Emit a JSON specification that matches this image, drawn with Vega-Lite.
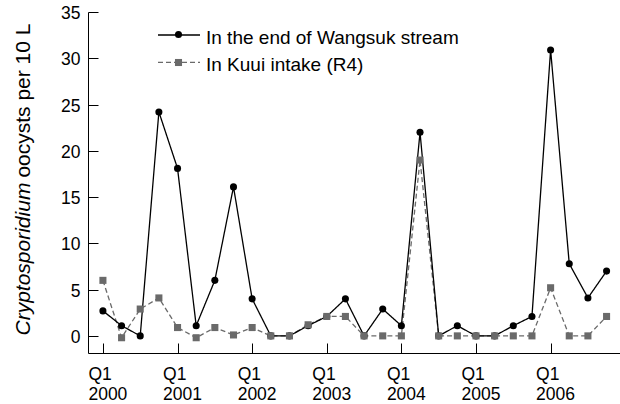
{
  "$schema": "https://vega.github.io/schema/vega-lite/v6.json",
  "width": 532,
  "height": 341,
  "autosize": {"type": "none"},
  "padding": {"left": 88, "top": 12, "right": 0, "bottom": 51},
  "background": "white",
  "config": {
    "view": {"stroke": null},
    "font": "Liberation Sans",
    "axis": {"grid": false, "domainColor": "black", "tickColor": "black", "labelColor": "black", "titleColor": "black", "labelFont": "Liberation Sans", "titleFont": "Liberation Sans", "domainWidth": 1, "tickWidth": 1}
  },
  "data": {
    "values": [
      {"t": 2000.00, "series": "In Kuui intake (R4)", "value": 6.0},
      {"t": 2000.25, "series": "In Kuui intake (R4)", "value": -0.2},
      {"t": 2000.50, "series": "In Kuui intake (R4)", "value": 2.9},
      {"t": 2000.75, "series": "In Kuui intake (R4)", "value": 4.1},
      {"t": 2001.00, "series": "In Kuui intake (R4)", "value": 0.9},
      {"t": 2001.25, "series": "In Kuui intake (R4)", "value": -0.2},
      {"t": 2001.50, "series": "In Kuui intake (R4)", "value": 0.9},
      {"t": 2001.75, "series": "In Kuui intake (R4)", "value": 0.1},
      {"t": 2002.00, "series": "In Kuui intake (R4)", "value": 0.9},
      {"t": 2002.25, "series": "In Kuui intake (R4)", "value": 0},
      {"t": 2002.50, "series": "In Kuui intake (R4)", "value": 0},
      {"t": 2002.75, "series": "In Kuui intake (R4)", "value": 1.2},
      {"t": 2003.00, "series": "In Kuui intake (R4)", "value": 2.1},
      {"t": 2003.25, "series": "In Kuui intake (R4)", "value": 2.1},
      {"t": 2003.50, "series": "In Kuui intake (R4)", "value": 0},
      {"t": 2003.75, "series": "In Kuui intake (R4)", "value": 0},
      {"t": 2004.00, "series": "In Kuui intake (R4)", "value": 0},
      {"t": 2004.25, "series": "In Kuui intake (R4)", "value": 19.0},
      {"t": 2004.50, "series": "In Kuui intake (R4)", "value": 0},
      {"t": 2004.75, "series": "In Kuui intake (R4)", "value": 0},
      {"t": 2005.00, "series": "In Kuui intake (R4)", "value": 0},
      {"t": 2005.25, "series": "In Kuui intake (R4)", "value": 0},
      {"t": 2005.50, "series": "In Kuui intake (R4)", "value": 0},
      {"t": 2005.75, "series": "In Kuui intake (R4)", "value": 0},
      {"t": 2006.00, "series": "In Kuui intake (R4)", "value": 5.2},
      {"t": 2006.25, "series": "In Kuui intake (R4)", "value": 0},
      {"t": 2006.50, "series": "In Kuui intake (R4)", "value": 0},
      {"t": 2006.75, "series": "In Kuui intake (R4)", "value": 2.1},
      {"t": 2000.00, "series": "In the end of Wangsuk stream", "value": 2.7},
      {"t": 2000.25, "series": "In the end of Wangsuk stream", "value": 1.1},
      {"t": 2000.50, "series": "In the end of Wangsuk stream", "value": 0},
      {"t": 2000.75, "series": "In the end of Wangsuk stream", "value": 24.2},
      {"t": 2001.00, "series": "In the end of Wangsuk stream", "value": 18.1},
      {"t": 2001.25, "series": "In the end of Wangsuk stream", "value": 1.1},
      {"t": 2001.50, "series": "In the end of Wangsuk stream", "value": 6.0},
      {"t": 2001.75, "series": "In the end of Wangsuk stream", "value": 16.1},
      {"t": 2002.00, "series": "In the end of Wangsuk stream", "value": 4.0},
      {"t": 2002.25, "series": "In the end of Wangsuk stream", "value": 0},
      {"t": 2002.50, "series": "In the end of Wangsuk stream", "value": 0},
      {"t": 2002.75, "series": "In the end of Wangsuk stream", "value": 1.1},
      {"t": 2003.00, "series": "In the end of Wangsuk stream", "value": 2.1},
      {"t": 2003.25, "series": "In the end of Wangsuk stream", "value": 4.0},
      {"t": 2003.50, "series": "In the end of Wangsuk stream", "value": 0},
      {"t": 2003.75, "series": "In the end of Wangsuk stream", "value": 2.9},
      {"t": 2004.00, "series": "In the end of Wangsuk stream", "value": 1.1},
      {"t": 2004.25, "series": "In the end of Wangsuk stream", "value": 22.0},
      {"t": 2004.50, "series": "In the end of Wangsuk stream", "value": 0},
      {"t": 2004.75, "series": "In the end of Wangsuk stream", "value": 1.1},
      {"t": 2005.00, "series": "In the end of Wangsuk stream", "value": 0},
      {"t": 2005.25, "series": "In the end of Wangsuk stream", "value": 0},
      {"t": 2005.50, "series": "In the end of Wangsuk stream", "value": 1.1},
      {"t": 2005.75, "series": "In the end of Wangsuk stream", "value": 2.1},
      {"t": 2006.00, "series": "In the end of Wangsuk stream", "value": 30.9},
      {"t": 2006.25, "series": "In the end of Wangsuk stream", "value": 7.8},
      {"t": 2006.50, "series": "In the end of Wangsuk stream", "value": 4.1},
      {"t": 2006.75, "series": "In the end of Wangsuk stream", "value": 7.0}
    ]
  },
  "layer": [
    {
      "mark": {"type": "line", "strokeWidth": 1.3},
      "encoding": {
        "x": {
          "field": "t", "type": "quantitative",
          "scale": {"domain": [1999.8, 2006.93], "nice": false, "zero": false},
          "axis": {"values": [2000, 2001, 2002, 2003, 2004, 2005, 2006], "format": "d", "labelExpr": "['Q1', datum.label]", "tickSize": -10, "labelPadding": 22, "labelFontSize": 17.5, "labelLineHeight": 20.5, "labelAlign": "left", "labelOffset": -15, "labelBaseline": "top", "title": null}
        },
        "y": {
          "field": "value", "type": "quantitative",
          "scale": {"domain": [-1.85, 35], "nice": false, "zero": false},
          "axis": {"orient": "left", "values": [0, 5, 10, 15, 20, 25, 30, 35], "tickSize": -10, "labelPadding": 18, "labelOffset": 1.5, "labelFontSize": 17.5, "title": "oocysts per 10 L", "titleFontSize": 21, "titleFontWeight": "normal", "titleAngle": 270, "titleAlign": "right", "titleBaseline": "alphabetic", "titleX": -59, "titleY": 11}
        },
        "color": {
          "field": "series", "type": "nominal",
          "scale": {"domain": ["In the end of Wangsuk stream", "In Kuui intake (R4)"], "range": ["#000000", "#6a6a6a"]},
          "legend": {
            "orient": "none", "legendX": 80, "legendY": 15, "title": null,
            "symbolType": "M-2.1,-0.3H2.1", "symbolSize": 400, "symbolStrokeWidth": 1.3,
            "labelOffset": 16, "rowPadding": 6.3, "labelLimit": 600,
            "labelFont": "Liberation Sans", "labelFontSize": 19, "labelColor": "black"
          }
        },
        "strokeDash": {
          "field": "series", "type": "nominal",
          "scale": {"domain": ["In the end of Wangsuk stream", "In Kuui intake (R4)"], "range": [[1, 0], [5, 3]]}
        }
      }
    },
    {
      "mark": {"type": "point", "filled": true, "size": 50, "opacity": 1},
      "encoding": {
        "x": {
          "field": "t", "type": "quantitative",
          "scale": {"domain": [1999.8, 2006.93], "nice": false, "zero": false},
          "axis": {"values": [2000, 2001, 2002, 2003, 2004, 2005, 2006], "format": "d", "labelExpr": "['Q1', datum.label]", "tickSize": -10, "labelPadding": 22, "labelFontSize": 17.5, "labelLineHeight": 20.5, "labelAlign": "left", "labelOffset": -15, "labelBaseline": "top", "title": null}
        },
        "y": {
          "field": "value", "type": "quantitative",
          "scale": {"domain": [-1.85, 35], "nice": false, "zero": false},
          "axis": {"orient": "left", "domain": false, "ticks": false, "labels": false, "title": "Cryptosporidium", "titleFontSize": 21, "titleFontWeight": "normal", "titleFontStyle": "italic", "titleAngle": 270, "titleAlign": "left", "titleBaseline": "alphabetic", "titleX": -59, "titleY": 323}
        },
        "fill": {
          "field": "series", "type": "nominal",
          "scale": {"domain": ["In Kuui intake (R4)", "In the end of Wangsuk stream"], "range": ["#6a6a6a", "#000000"]},
          "legend": {
            "orient": "none", "legendX": 86, "legendY": 18, "title": null,
            "values": ["In the end of Wangsuk stream", "In Kuui intake (R4)"],
            "symbolSize": 50, "rowPadding": 13, "labelExpr": "''", "labelFontSize": 1
          }
        },
        "shape": {
          "field": "series", "type": "nominal",
          "scale": {"domain": ["In Kuui intake (R4)", "In the end of Wangsuk stream"], "range": ["square", "circle"]},
          "legend": {
            "orient": "none", "legendX": 86, "legendY": 18, "title": null,
            "values": ["In the end of Wangsuk stream", "In Kuui intake (R4)"],
            "symbolSize": 50, "rowPadding": 13, "labelExpr": "''", "labelFontSize": 1
          }
        },
        "order": {"field": "series", "sort": "descending"}
      }
    }
  ],
  "resolve": {"axis": {"y": "independent"}}
}
